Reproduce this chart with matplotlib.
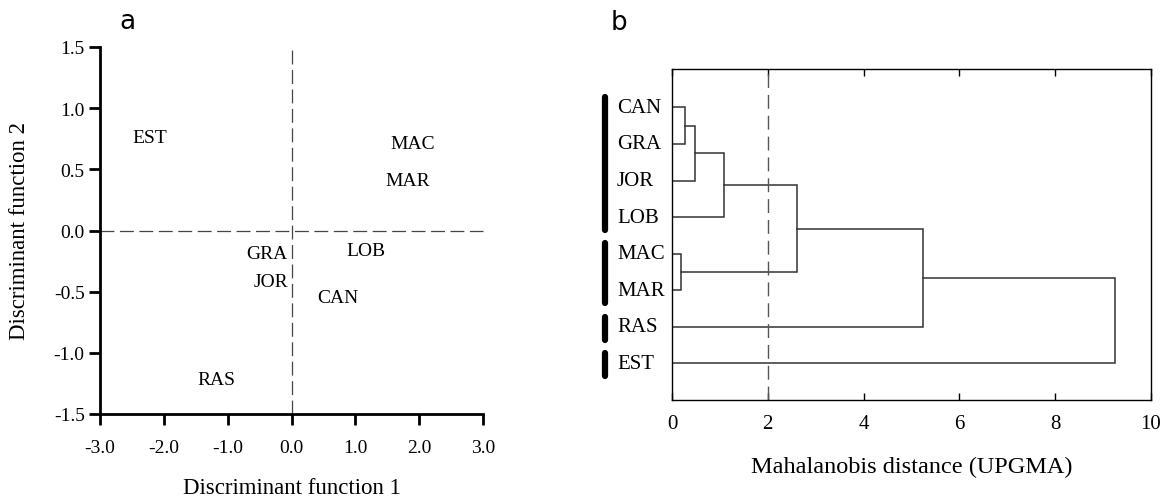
import matplotlib
matplotlib.use("Agg")
import matplotlib.pyplot as plt
from matplotlib.lines import Line2D

plt.rcParams['font.family'] = ['Liberation Serif', 'DejaVu Serif']
plt.rcParams['lines.scale_dashes'] = False

# ---------------- data ----------------
# Panel a: group centroids on discriminant functions
groups = ["EST", "MAC", "MAR", "LOB", "GRA", "JOR", "CAN", "RAS"]
df1 = [-2.22, 1.90, 1.82, 1.17, -0.39, -0.32, 0.73, -1.17]
df2 = [0.76, 0.71, 0.41, -0.16, -0.19, -0.42, -0.55, -1.22]
a_xticks = [-3.0, -2.0, -1.0, 0.0, 1.0, 2.0, 3.0]
a_yticks = [-1.5, -1.0, -0.5, 0.0, 0.5, 1.0, 1.5]

# Panel b: UPGMA dendrogram (leaf order top->bottom) and merge heights
leaves = ["CAN", "GRA", "JOR", "LOB", "MAC", "MAR", "RAS", "EST"]
# merges: (left child, right child, distance); children are leaf indices or "n<k>" nodes
merges = [
    (0, 1, 0.28),        # n0: CAN + GRA
    ("n0", 2, 0.47),     # n1: + JOR
    ("n1", 3, 1.09),     # n2: + LOB
    (4, 5, 0.19),        # n3: MAC + MAR
    ("n2", "n3", 2.61),  # n4
    ("n4", 6, 5.23),     # n5: + RAS
    ("n5", 7, 9.24),     # n6: + EST
]
# group bars (first leaf, last leaf)
bars = [(0, 3), (4, 5), (6, 6), (7, 7)]
b_xticks = [0, 2, 4, 6, 8, 10]
cut_distance = 2.0

W, H = 1169, 502
fig = plt.figure(figsize=(W / 100, H / 100), dpi=100)

# ---------------- panel a ----------------
axa = fig.add_axes([100 / W, 1 - 415 / H, (483 - 100) / W, (415 - 48) / H])
axa.set_xlim(-3, 3)
axa.set_ylim(-1.5, 1.5)
for s in ["top", "right"]:
    axa.spines[s].set_visible(False)
for s in ["left", "bottom"]:
    axa.spines[s].set_linewidth(2)
axa.set_xticks(a_xticks)
axa.set_xticklabels([f"{v:.1f}" for v in a_xticks])
axa.set_yticks(a_yticks)
axa.set_yticklabels([f"{v:.1f}" for v in a_yticks])
axa.tick_params(axis="both", direction="out", length=8, width=2, labelsize=14)
axa.tick_params(axis="x", pad=10)
axa.tick_params(axis="y", pad=3)

axa.plot([-3, 3], [0, 0], color="#444444", lw=0.9, ls=(0, (10, 4)), clip_on=False)
axa.plot([0, 0], [-1.5, 1.48], color="#444444", lw=0.9, ls=(0, (10, 4)), clip_on=False)
for g, x, y in zip(groups, df1, df2):
    axa.text(x, y, g, ha="center", va="center", fontsize=14)

axa.set_xlabel("Discriminant function 1", fontsize=16.5)
axa.xaxis.set_label_coords(0.5, -0.2)
axa.xaxis.label.set_va("center")
axa.set_ylabel("Discriminant function 2", fontsize=16.5)
axa.yaxis.set_label_coords(-0.21, 0.5)
axa.yaxis.label.set_va("center")

fig.text(127 / W, 1 - 29 / H, "a", family="DejaVu Sans", fontsize=19, ha="center", va="baseline")

# ---------------- panel b ----------------
axb = fig.add_axes([672 / W, 1 - 401 / H, (1151 - 672) / W, (401 - 70) / H])
axb.set_xlim(0, 10)
axb.set_ylim(8.0, -1.05)
for s in axb.spines.values():
    s.set_linewidth(1.0)
axb.set_xticks(b_xticks)
axb.set_xticklabels([str(v) for v in b_xticks])
axb.set_yticks([])
axb.tick_params(axis="x", direction="in", length=5, width=1, top=True, labeltop=False,
                labelsize=15, pad=10)

lc = "#333333"
pos = {}
for i in range(len(leaves)):
    pos[i] = (0.0, float(i))
for k, (a, b, d) in enumerate(merges):
    xa, ya = pos[a]
    xb, yb = pos[b]
    axb.plot([xa, d, d, xb], [ya, ya, yb, yb], color=lc, lw=1.1, solid_joinstyle="miter")
    pos[f"n{k}"] = (d, (ya + yb) / 2)

axb.plot([cut_distance, cut_distance], [8.0, -1.05], color="#555555", lw=1.0, ls=(0, (10, 5)))

trans = axb.get_yaxis_transform()
for i, name in enumerate(leaves):
    axb.text(-0.115, i, name, transform=trans, ha="left", va="center", fontsize=15)
for (s, e) in bars:
    axb.add_line(Line2D([-0.14, -0.14], [s - 0.28, e + 0.35], transform=trans, color="black",
                        lw=4.5, solid_capstyle="round", clip_on=False))

axb.set_xlabel("Mahalanobis distance (UPGMA)", fontsize=17.5)
axb.xaxis.set_label_coords(0.5, -0.2)
axb.xaxis.label.set_va("center")

fig.text(619 / W, 1 - 30 / H, "b", family="DejaVu Sans", fontsize=19, ha="center", va="baseline")

fig.savefig("out.png", dpi=100)
